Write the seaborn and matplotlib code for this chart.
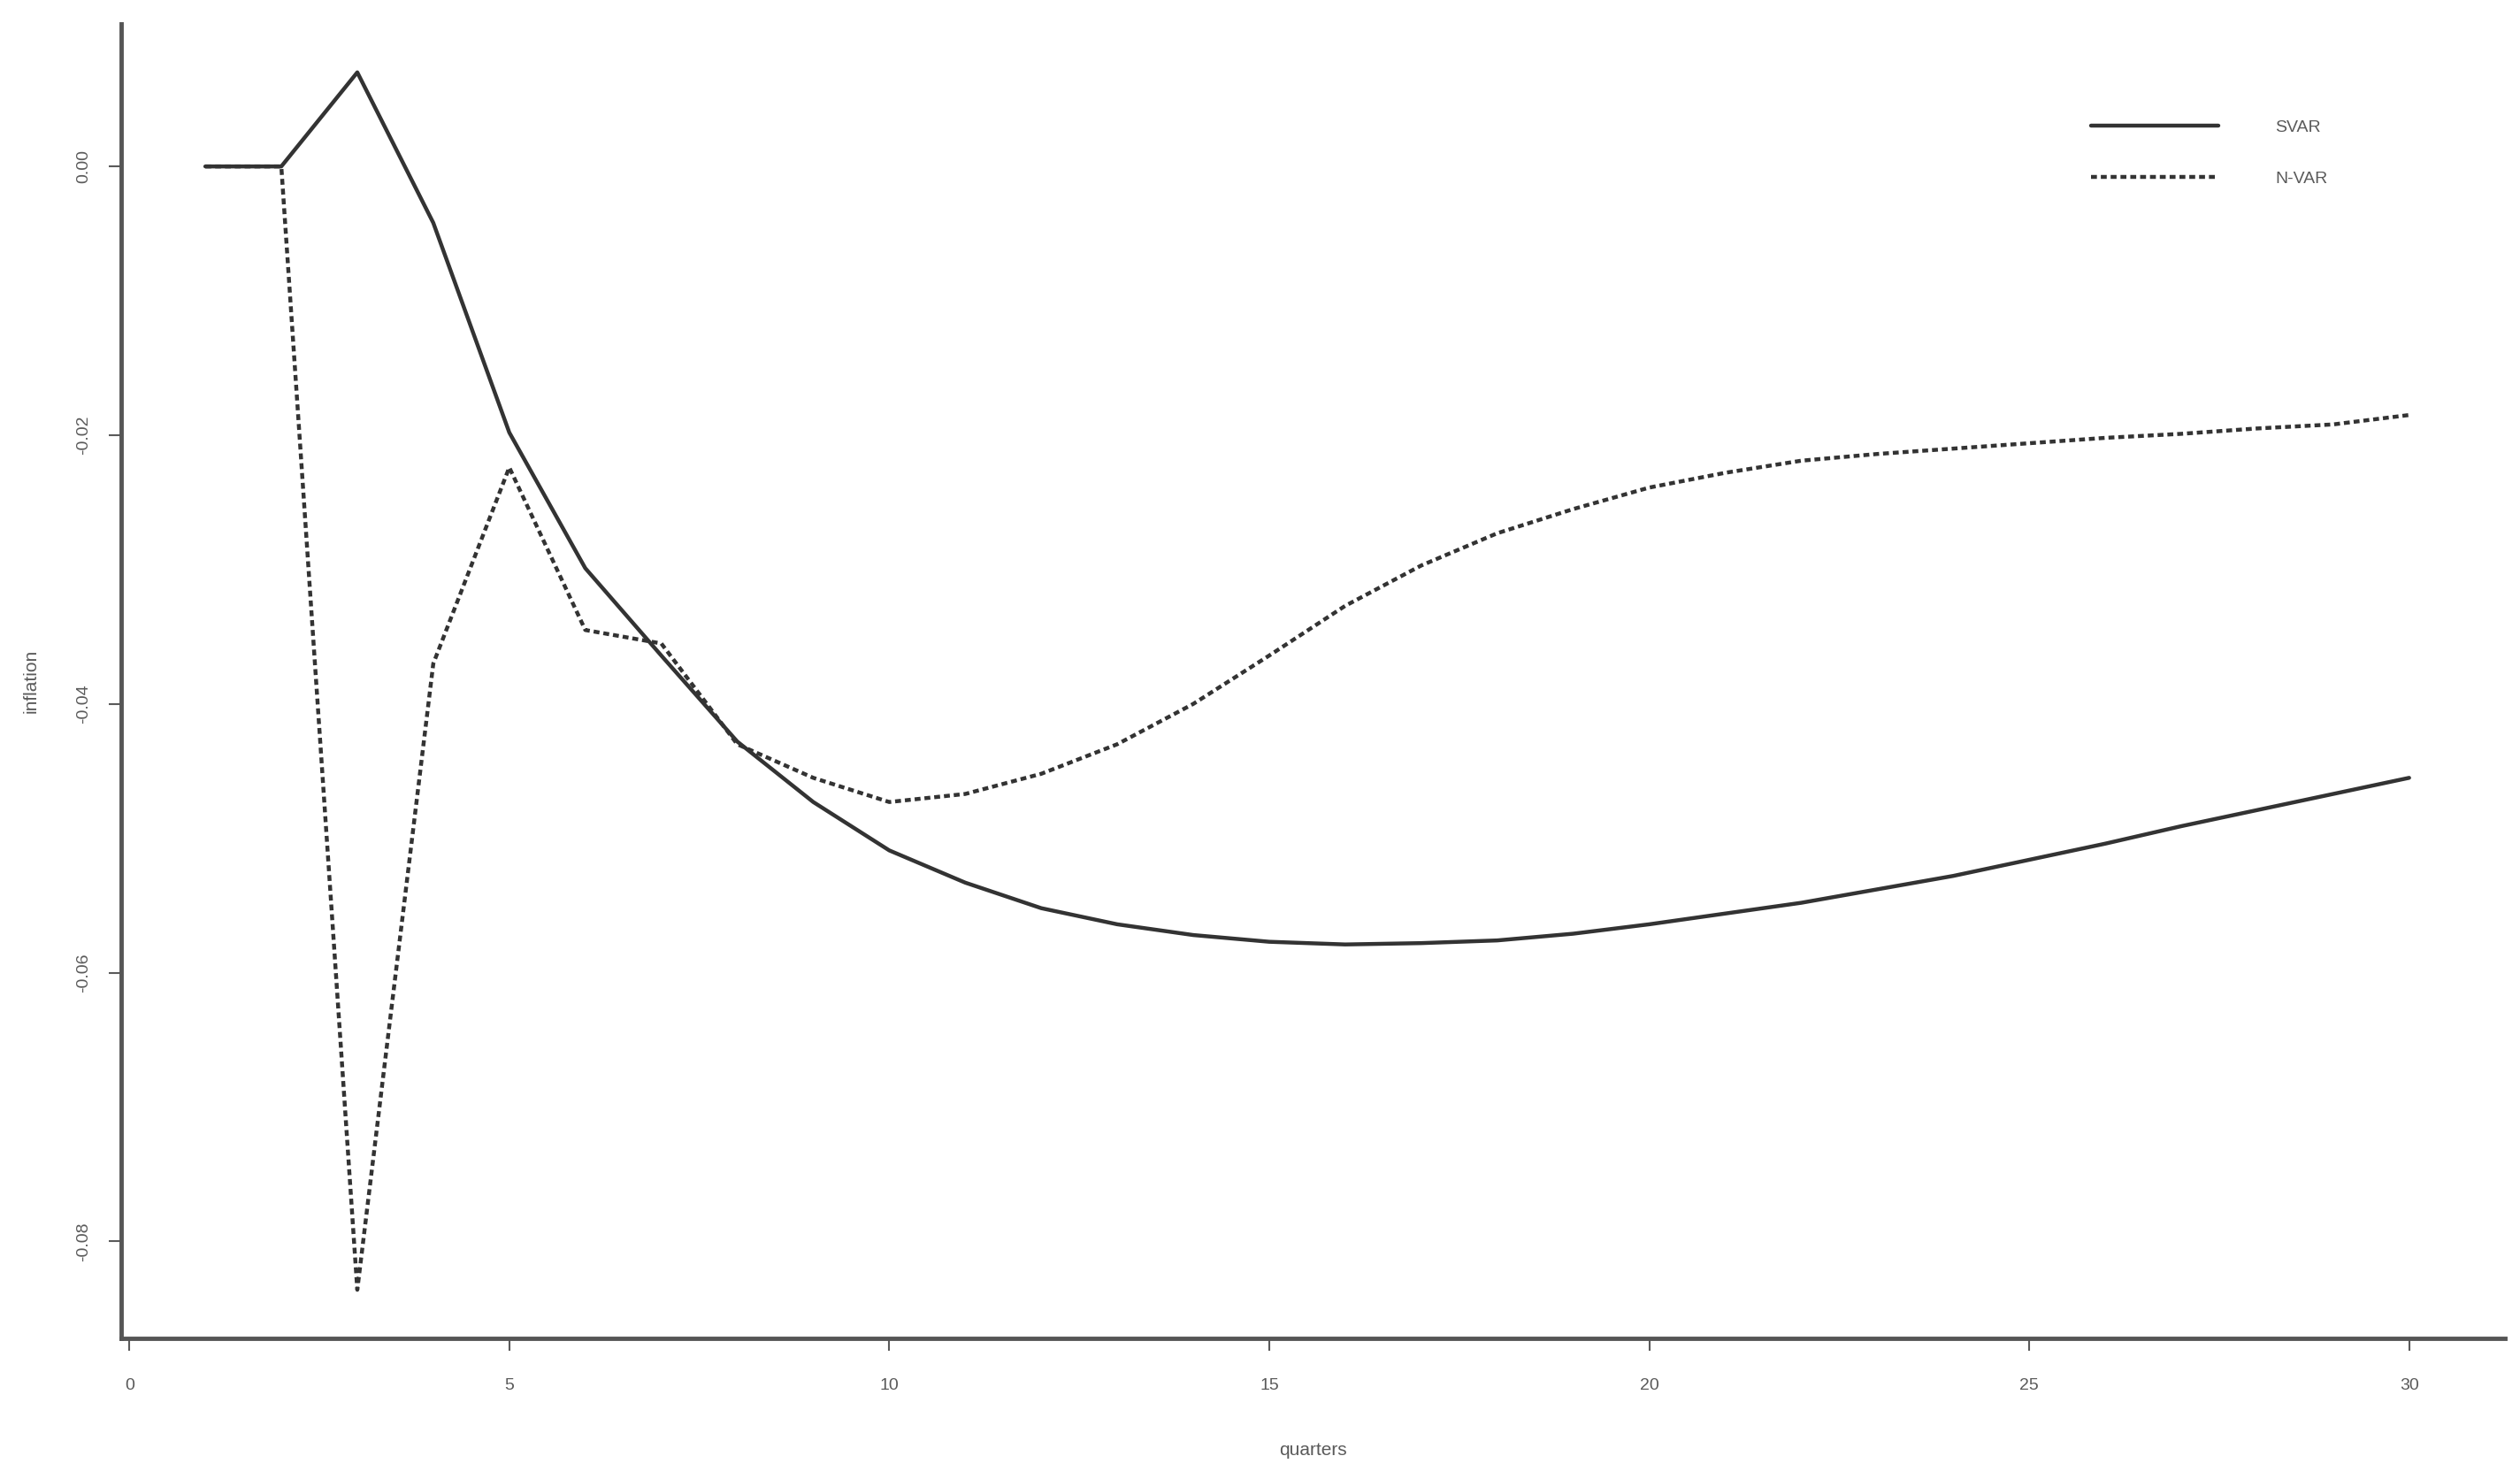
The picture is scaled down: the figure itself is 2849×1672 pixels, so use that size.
import matplotlib
matplotlib.use('Agg')
import matplotlib.pyplot as plt
import seaborn as sns
import pandas as pd
import numpy as np

# values
quarters = list(range(1, 31))
svar = [0.0, 0.0, 0.0070, -0.0042, -0.0198, -0.0299, -0.0364, -0.0428, -0.0473, -0.0509,
        -0.0533, -0.0552, -0.0564, -0.0572, -0.0577, -0.0579, -0.0578, -0.0576, -0.0571, -0.0564,
        -0.0556, -0.0548, -0.0538, -0.0528, -0.0516, -0.0504, -0.0491, -0.0479, -0.0467, -0.0455]
nvar = [0.0, 0.0, -0.0836, -0.0370, -0.0224, -0.0345, -0.0355, -0.0430, -0.0455, -0.0473,
        -0.0467, -0.0452, -0.0430, -0.0400, -0.0364, -0.0327, -0.0297, -0.0273, -0.0255, -0.0239,
        -0.0228, -0.0219, -0.0214, -0.0210, -0.0206, -0.0202, -0.0199, -0.0195, -0.0192, -0.0185]
series_names = ['SVAR', 'N-VAR']
x_ticks = [0, 5, 10, 15, 20, 25, 30]
y_ticks = [0.00, -0.02, -0.04, -0.06, -0.08]

df = pd.DataFrame({
    'quarters': quarters * 2,
    'inflation': svar + nvar,
    'model': [series_names[0]] * len(quarters) + [series_names[1]] * len(quarters),
})

sns.set_style('white')
plt.rcParams['font.family'] = ['Liberation Sans', 'DejaVu Sans']

fig = plt.figure(figsize=(28.49, 16.72), dpi=100)
ax = fig.add_axes([0.048, 0.095, 0.946, 0.889])

sns.lineplot(data=df, x='quarters', y='inflation', style='model',
             dashes={'SVAR': '', 'N-VAR': (1.5, 1.0)}, color='#333333',
             linewidth=3.2, ax=ax, legend=True)

lo, hi = min(svar + nvar), max(svar + nvar)
pad = (hi - lo) * 0.04
ax.set_ylim(lo - pad, hi + pad)
xpad = (max(quarters) - min(quarters)) * 0.04
ax.set_xlim(min(quarters) - xpad + 0.05, max(quarters) + xpad + 0.1)

ax.set_xticks(x_ticks)
ax.set_xticklabels([str(t) for t in x_ticks])
ax.set_yticks(y_ticks)
ax.set_yticklabels([f'{t:.2f}' for t in y_ticks], rotation=90, va='center')
ax.tick_params(axis='both', colors='#5a5a5a', labelsize=14, length=10, width=1.5,
               direction='out', bottom=True, left=True)
ax.tick_params(axis='x', pad=22)
ax.tick_params(axis='y', pad=14)

for side in ['top', 'right']:
    ax.spines[side].set_visible(False)
for side in ['left', 'bottom']:
    ax.spines[side].set_color('#555555')
    ax.spines[side].set_linewidth(3.5)

ax.set_xlabel('quarters', fontsize=15, color='#5a5a5a', labelpad=40)
ax.set_ylabel('inflation', fontsize=15, color='#5a5a5a', labelpad=30)

leg = ax.legend(loc='upper right', bbox_to_anchor=(0.932, 0.939), frameon=False,
                fontsize=14, handlelength=7.4, handletextpad=3.3, labelspacing=2.1)
for txt in leg.get_texts():
    txt.set_color('#5a5a5a')
for line in leg.get_lines():
    line.set_linewidth(3.2)
    line.set_color('#333333')

fig.savefig('out.png', dpi=100, facecolor='white')
